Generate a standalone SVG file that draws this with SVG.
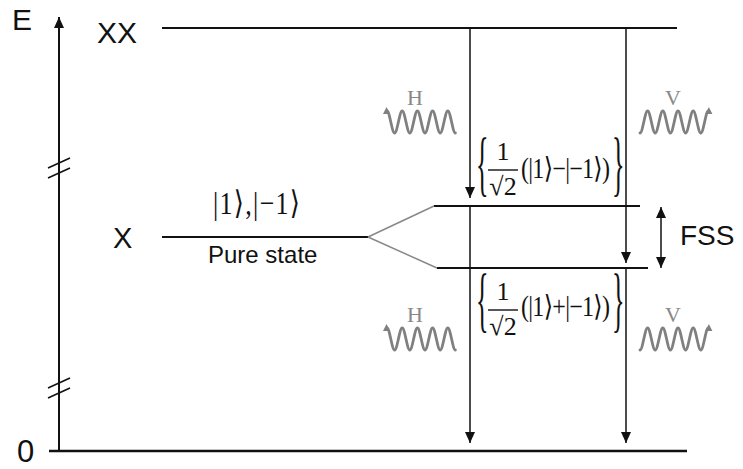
<svg xmlns="http://www.w3.org/2000/svg" xmlns:xlink="http://www.w3.org/1999/xlink" width="743" height="469" viewBox="0 0 743 469">
<style>
.lbl{font-family:"Liberation Sans",Arial,sans-serif;fill:#111;}
.math{font-family:"Liberation Serif","DejaVu Serif",serif;fill:#111;}
.pol{font-family:"Liberation Serif","DejaVu Serif",serif;fill:#888;font-size:22px;}
.lvl{stroke:#111;stroke-width:2;fill:none;}
.tr{stroke:#111;stroke-width:1.5;fill:none;}
.wave{stroke:#808080;stroke-width:2.8;fill:none;stroke-linecap:round;}
</style>
<defs>
<marker id="ah" markerUnits="userSpaceOnUse" markerWidth="11" markerHeight="10" refX="11" refY="5" orient="auto-start-reverse">
<path d="M0,0 L11,5 L0,10 z" fill="#111"/>
</marker>
<g id="waveH">
<path class="wave" d="M387,111 C389.74,111 391.86,133 394.6,133 C397.34,133 399.46,111 402.2,111 C404.94,111 407.06,133 409.8,133 C412.54,133 414.66,111 417.4,111 C420.14,111 422.26,133 425,133 C427.74,133 429.86,111 432.6,111 C435.34,111 437.46,133 440.2,133 C442.94,133 445.06,111 447.8,111 C450.54,111 452.66,133 455.4,133"/>
<path d="M386.5,107 L383,114 L390,114 z" fill="#808080"/>
</g>
<g id="waveV">
<path class="wave" d="M640,133 C642.74,133 644.86,111 647.6,111 C650.34,111 652.46,133 655.2,133 C657.94,133 660.06,111 662.8,111 C665.54,111 667.66,133 670.4,133 C673.14,133 675.26,111 678,111 C680.74,111 682.86,133 685.6,133 C688.34,133 690.46,111 693.2,111 C695.94,111 698.06,133 700.8,133 C703.54,133 705.66,111 708.4,111"/>
<path d="M708.9,107 L705.4,114 L712.4,114 z" fill="#808080"/>
</g>
</defs>
<rect width="743" height="469" fill="#fff"/>

<g id="axis">
<line x1="59" y1="451" x2="59" y2="17" stroke="#111" stroke-width="2" marker-end="url(#ah)"/>
<line x1="49" y1="451" x2="687" y2="451" stroke="#111" stroke-width="2.6"/>
<line x1="48" y1="168" x2="70" y2="158" stroke="#111" stroke-width="1.6"/>
<line x1="48" y1="178" x2="70" y2="168" stroke="#111" stroke-width="1.6"/>
<line x1="48" y1="388" x2="70" y2="378" stroke="#111" stroke-width="1.6"/>
<line x1="48" y1="398" x2="70" y2="388" stroke="#111" stroke-width="1.6"/>
<text class="lbl" x="12" y="30" font-size="30">E</text>
<text class="lbl" x="17" y="462" font-size="31">0</text>
</g>

<g id="XX">
<line class="lvl" x1="162" y1="28" x2="677" y2="28"/>
<text class="lbl" x="97" y="43" font-size="30">XX</text>
</g>

<g id="X">
<line class="lvl" x1="162" y1="237" x2="368" y2="237"/>
<text class="lbl" x="113" y="248" font-size="29">X</text>
<text class="math" transform="translate(213,214) scale(1,1.25)" font-size="26" textLength="87" lengthAdjust="spacing">|1⟩,|−1⟩</text>
<text class="lbl" x="208" y="263" font-size="24">Pure state</text>
</g>

<g id="Xupper">
<line class="lvl" x1="434" y1="206" x2="640" y2="206"/>
<text class="math" transform="translate(476,187) scale(1,2.75)" font-size="26">{</text>
<text class="math" x="503" y="160" font-size="26" text-anchor="middle">1</text>
<line x1="488" y1="170" x2="518" y2="170" stroke="#111" stroke-width="1.4"/>
<text class="math" x="503" y="195" font-size="26" text-anchor="middle">√2</text>
<text class="math" transform="translate(521,178) scale(1,1.2)" font-size="24" textLength="89" lengthAdjust="spacing">(|1⟩−|−1⟩)</text>
<text class="math" transform="translate(612,187) scale(1,2.75)" font-size="26">}</text>
</g>

<g id="Xlower">
<line class="lvl" x1="437" y1="268" x2="648" y2="268"/>
<g transform="translate(0,136)">
<text class="math" transform="translate(476,187) scale(1,2.75)" font-size="26">{</text>
<text class="math" x="503" y="164" font-size="26" text-anchor="middle">1</text>
<line x1="488" y1="174" x2="518" y2="174" stroke="#111" stroke-width="1.4"/>
<text class="math" x="503" y="199" font-size="26" text-anchor="middle">√2</text>
<text class="math" transform="translate(521,180) scale(1,1.2)" font-size="24" textLength="89" lengthAdjust="spacing">(|1⟩+|−1⟩)</text>
<text class="math" transform="translate(612,187) scale(1,2.75)" font-size="26">}</text>
</g>
</g>

<g id="photons">
<use xlink:href="#waveH"/>
<use xlink:href="#waveV"/>
<use xlink:href="#waveH" transform="translate(0,217)"/>
<use xlink:href="#waveV" transform="translate(0,217)"/>
<text class="pol" x="415" y="105" text-anchor="middle">H</text>
<text class="pol" x="673" y="105" text-anchor="middle">V</text>
<text class="pol" x="415" y="322" text-anchor="middle">H</text>
<text class="pol" x="673" y="322" text-anchor="middle">V</text>
</g>

<g id="FSS">
<text class="lbl" x="680" y="245" font-size="28">FSS</text>
</g>

<g id="connectors">
<line x1="368" y1="237" x2="434" y2="206" stroke="#888" stroke-width="1.5"/>
<line x1="368" y1="237" x2="437" y2="268" stroke="#888" stroke-width="1.5"/>
<line class="tr" x1="470" y1="28" x2="470" y2="198" marker-end="url(#ah)"/>
<line class="tr" x1="470" y1="206" x2="470" y2="443" marker-end="url(#ah)"/>
<line class="tr" x1="626" y1="28" x2="626" y2="263" marker-end="url(#ah)"/>
<line class="tr" x1="626" y1="268" x2="626" y2="443" marker-end="url(#ah)"/>
<line class="tr" x1="661" y1="207" x2="661" y2="268" marker-start="url(#ah)" marker-end="url(#ah)"/>
</g>
</svg>
